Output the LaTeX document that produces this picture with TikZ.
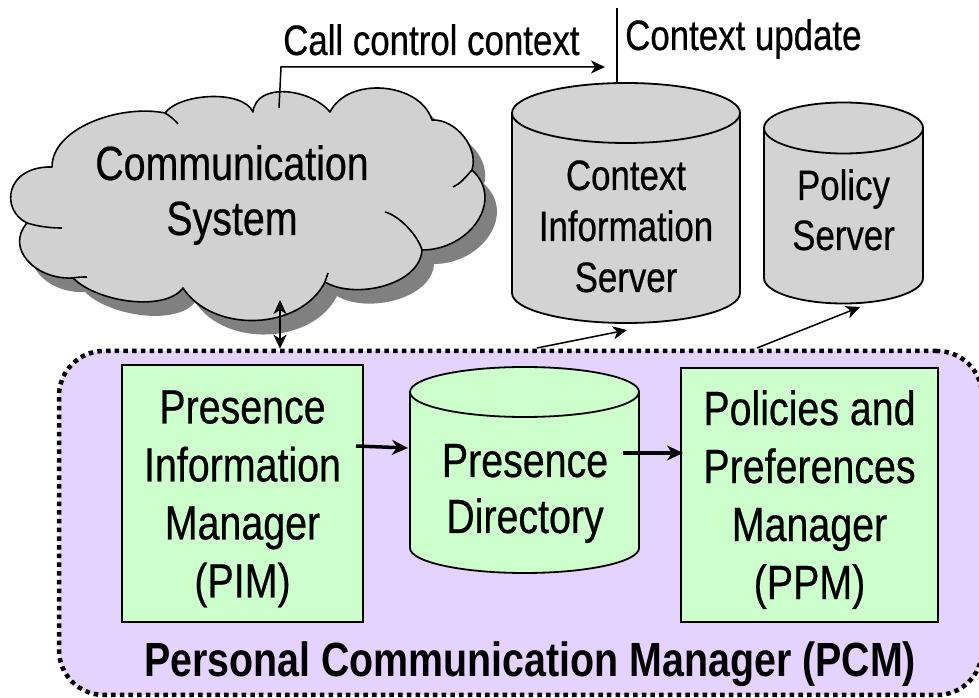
\documentclass[tikz,border=0pt]{standalone}
\usepackage{fontspec}
\setmainfont{Liberation Sans}[FakeStretch=0.82, UprightFeatures={FakeBold=0.5}]
\usetikzlibrary{calc,arrows.meta}
\definecolor{pcmfill}{RGB}{229,211,255}
\definecolor{boxgreen}{RGB}{204,255,204}
\definecolor{cloudgray}{RGB}{209,209,209}
\definecolor{cylgray}{RGB}{211,211,211}
\definecolor{shadowgray}{RGB}{128,128,128}
\newcommand\cloudpath{(cA) .. controls (120,594) and (52,570) .. (cB)
  .. controls (5,532) and (0,488) .. (cC)
  .. controls (5,450) and (35,418) .. (cD)
  .. controls (97.5,395.5) and (165,386) .. (cE)
  .. controls (213,364.4) and (300,367) .. (cG)
  .. controls (355,398) and (420,413) .. (cH)
  .. controls (470,448) and (505,498) .. (cI)
  .. controls (479,550) and (456,579) .. (cJ)
  .. controls (420,616) and (348,622) .. (cK)
  .. controls (310,610) and (256,616) .. (cL)
  .. controls (243,608.5) and (180,605) .. (cA) -- cycle}
\newcommand\cylshape[6]{%
  \filldraw[fill=#6, line width=1.8pt, line join=round] (#1-#4,#2) -- (#1-#4,#3) arc[start angle=180,end angle=360,x radius=#4,y radius=#5] -- (#1+#4,#2) arc[start angle=0,end angle=180,x radius=#4,y radius=#5] -- cycle;
  \draw[line width=1.8pt] (#1-#4,#2) arc[start angle=180,end angle=360,x radius=#4,y radius=#5];
}
\begin{document}
\begin{tikzpicture}[x=1pt,y=1pt,
  txt/.style={inner sep=0pt, align=center},
  thinline/.style={line width=1.5pt},
  thinarr/.style={line width=1.5pt, -{Stealth[length=14pt,width=13pt,inset=4pt]}},
  thinboth/.style={line width=1.5pt, {Stealth[length=14pt,width=13pt,inset=4pt]}-{Stealth[length=14pt,width=13pt,inset=4pt]}},
  thickarr/.style={line width=3.5pt, -{Stealth[length=16pt,width=15pt,inset=5pt]}},
  boxst/.style={draw, line width=2pt, fill=boxgreen, inner sep=0pt, align=center, font=\fontsize{48}{58}\selectfont}
]
\useasboundingbox (0,0) rectangle (979,698);

% Personal Communication Manager container
\node[draw, line width=4.5pt, dash pattern=on 4.5pt off 4.2pt, rounded corners=45pt, fill=pcmfill,
      minimum width=923pt, minimum height=344pt, inner sep=0pt] (pcm) at (520.5,175) {};
\node[anchor=base, inner sep=0pt, font=\bfseries\fontsize{48}{58}\selectfont] (pcmlabel) at (530,21.3) {Personal Communication Manager (PCM)};

% cloud
\coordinate (cA) at (165,585);
\coordinate (cB) at (52,531);
\coordinate (cC) at (27,475);
\coordinate (cD) at (73,420);
\coordinate (cE) at (183,410);
\coordinate (cG) at (325,416);
\coordinate (cH) at (422,448);
\coordinate (cI) at (472,528);
\coordinate (cJ) at (432,578);
\coordinate (cK) at (330,586);
\coordinate (cL) at (253,586);
\fill[shadowgray, transform canvas={shift={(12pt,-14pt)}}] \cloudpath;
\filldraw[fill=cloudgray, line width=1.6pt, line join=round] \cloudpath;
\draw[line width=1.6pt] (cH) .. controls (418,462) and (400,482) .. (385,486);
\draw[line width=1.6pt] (cI) .. controls (465,520) and (460,514) .. (453,511);
\draw[line width=1.6pt] (cC) .. controls (40,471) and (52,470) .. (62,470);
\draw[line width=1.6pt] (cD) .. controls (78,421) and (83,421) .. (87,421);
\draw[line width=1.6pt] (cA) .. controls (170,582) and (175,578) .. (178,574);
\draw[line width=1.6pt] (cG) -- (328,425);
\node[txt, font=\fontsize{48}{55}\selectfont] (comm) at (232,501.5) {\strut Communication\\\strut System};

% cylinders
\cylshape{626}{585}{405}{114}{30}{cylgray}
\node[txt, font=\fontsize{42.5}{51}\selectfont] (cis) at (626,467.2) {\strut Context\\\strut Information\\\strut Server};
\coordinate (cisTop) at (626,615);
\coordinate (cisIn) at (627,368);

\cylshape{843.5}{570}{420}{79.5}{25.5}{cylgray}
\node[txt, font=\fontsize{42.5}{50}\selectfont] (pol) at (843.5,483) {\strut Policy\\\strut Server};
\coordinate (polIn) at (860,391);

\cylshape{524.5}{306}{150}{114.5}{25}{boxgreen}
\node[txt, font=\fontsize{48}{56}\selectfont] (pd) at (525,204.2) {\strut Presence\\\strut Directory};
\coordinate (pdIn) at (408,250);
\coordinate (pdOut) at (623,245);

% boxes
\node[boxst, minimum width=241pt, minimum height=257pt] (pim) at (242.5,204.5) {\rule{0pt}{43.8pt}Presence\\Information\\Manager\\(PIM)};
\node[boxst, minimum width=257pt, minimum height=254pt] (ppm) at (809.5,203) {\rule{0pt}{44pt}Policies and\\Preferences\\Manager\\(PPM)};

% top labels
\node[anchor=base west, inner sep=0pt, font=\fontsize{42.5}{51}\selectfont] (calllbl) at (283,643) {Call control context};
\node[anchor=base west, inner sep=0pt, font=\fontsize{42.5}{51}\selectfont] (updlbl) at (625,648) {Context update};

% connectors
\coordinate (callStart) at (279,590);
\coordinate (callEnd) at (605,631);
\draw[thinarr] (callStart) -- ++(2,41) -- (callEnd);
\coordinate (updTop) at (617,690);
\draw[thinline] (updTop) -- (updTop |- cisTop);
\coordinate (commBot) at (280,398);
\draw[thinboth] (commBot) -- (commBot |- pcm.north);
\coordinate (pcmCis) at (537,350);
\coordinate (pcmPol) at (757,350);
\draw[thinarr] (pcmCis) -- (cisIn);
\draw[thinarr] (pcmPol) -- (polIn);
\draw[thickarr] ([shift={(-8pt,47.5pt)}]pim.east) -- (pdIn);
\draw[thickarr, shorten >=-3pt] (pdOut) -- (pdOut -| ppm.west);
\end{tikzpicture}
\end{document}
